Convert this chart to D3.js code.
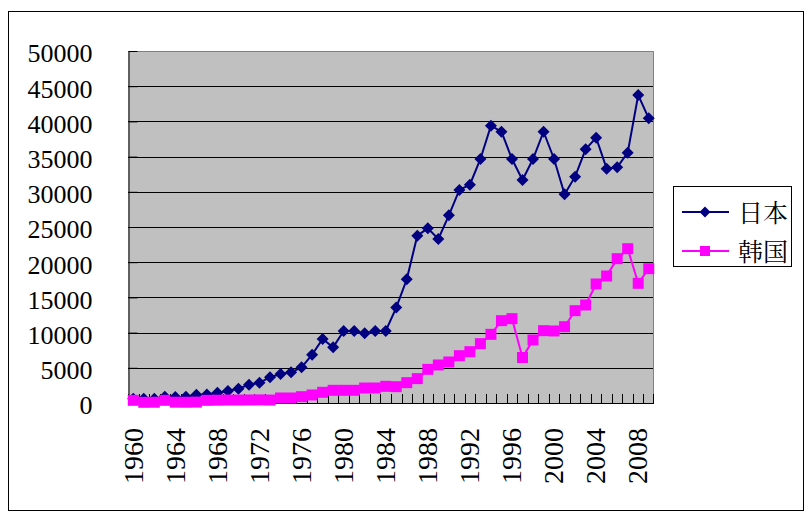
<!DOCTYPE html>
<html><head><meta charset="utf-8">
<script src="https://cdn.jsdelivr.net/npm/d3@7"></script>
<style>html,body{margin:0;padding:0;background:#fff;}svg{display:block;}</style>
</head><body>
<svg id="c" width="811" height="523"></svg>
<script>
const years = d3.range(1960, 2010).map(String);
const seriesNames = ["日本", "韩国"];
const japan = [610, 610, 620, 900, 850, 880, 1180, 1200, 1470, 1700,
  2040, 2600, 2890, 3645, 4120, 4355, 5065, 6865, 9090, 7905,
  10230, 10230, 9895, 10230, 10230, 13560, 17570, 23770, 24810, 23300,
  26660, 30260, 31010, 34660, 39390, 38540, 34660, 31680, 34660, 38540,
  34660, 29640, 32150, 36030, 37690, 33290, 33480, 35560, 43750, 40440];
const korea = [380, 100, 110, 380, 120, 110, 130, 380, 400, 420,
  420, 430, 440, 420, 710, 710, 900, 1140, 1520, 1800,
  1800, 1800, 2130, 2130, 2370, 2320, 2890, 3460, 4780, 5400,
  5825, 6720, 7290, 8430, 9755, 11695, 11980, 6460, 8950, 10275,
  10230, 10840, 13115, 13920, 16905, 18040, 20500, 21920, 17000, 19080];
const yTicks = [0, 5000, 10000, 15000, 20000, 25000, 30000, 35000, 40000, 45000, 50000];
const xLabelYears = years.filter((d, i) => i % 4 === 0);
const colors = ["#000080", "#FF00FF"];
const SERIF = '"Liberation Serif"';

const svg = d3.select("#c");
const L = 128, R = 654, T = 51, B = 403;

svg.append("rect").attr("x", 8.5).attr("y", 11.5).attr("width", 795).attr("height", 499)
  .attr("fill", "#fff").attr("stroke", "#000").attr("stroke-width", 1);

const x = d3.scaleBand().domain(years).range([L, R]).paddingInner(0).paddingOuter(0);
const cx = d => x(d) + x.bandwidth() / 2;
const y = d3.scaleLinear().domain([0, 50000]).range([B, T]);

svg.append("rect").attr("x", L).attr("y", T).attr("width", R - L).attr("height", B - T)
  .attr("fill", "#C0C0C0");
svg.append("path").attr("d", `M${L},${T + 0.5}H${R - 0.5}V${B}`)
  .attr("fill", "none").attr("stroke", "#808080").attr("stroke-width", 1);

svg.append("g").selectAll("line").data(yTicks.filter(v => v > 0 && v < 50000)).join("line")
  .attr("x1", L).attr("x2", R - 1)
  .attr("y1", d => Math.round(y(d)) + 0.5).attr("y2", d => Math.round(y(d)) + 0.5)
  .attr("stroke", "#000").attr("stroke-width", 1);

const yAxis = svg.append("g").attr("transform", `translate(${L + 0.5},0)`)
  .call(d3.axisLeft(y).tickValues(yTicks).tickSizeInner(-9).tickSizeOuter(0).tickPadding(36)
    .tickFormat(d3.format("d")));
yAxis.select(".domain").attr("stroke", "#000");
yAxis.selectAll(".tick line").attr("stroke", "#000");
yAxis.selectAll(".tick text")
  .style("font-family", SERIF).style("font-size", "26px").attr("fill", "#000").attr("dy", "0.42em");

const gx = svg.append("g");
gx.append("line").attr("x1", L).attr("x2", R).attr("y1", B + 0.5).attr("y2", B + 0.5)
  .attr("stroke", "#000");
gx.selectAll("line.t").data(years.concat(["end"])).join("line").attr("class", "t")
  .attr("x1", d => (d === "end" ? R - 0.5 : Math.round(x(d)) + 0.5))
  .attr("x2", d => (d === "end" ? R - 0.5 : Math.round(x(d)) + 0.5))
  .attr("y1", B - 9).attr("y2", B + 1).attr("stroke", "#000");

const xAxis = svg.append("g").attr("transform", `translate(0,${B})`)
  .call(d3.axisBottom(x).tickValues(xLabelYears).tickSize(0).tickPadding(0));
xAxis.select(".domain").remove();
xAxis.selectAll(".tick text")
  .style("font-family", SERIF).style("font-size", "28px").attr("fill", "#000")
  .attr("text-anchor", "end").attr("transform", "translate(0,25) rotate(-90)")
  .attr("x", 0).attr("y", 0).attr("dy", "0.33em");

const diamond = s => `M0,${-s}L${s},0L0,${s}L${-s},0Z`;
const square = s => `M${-s},${-s}H${s}V${s}H${-s}Z`;
const markers = [diamond(6), square(5.5)];

[japan, korea].forEach((vals, k) => {
  const g = svg.append("g");
  g.append("path").datum(vals)
    .attr("d", d3.line().x((d, i) => cx(years[i])).y(d => y(d)))
    .attr("fill", "none").attr("stroke", colors[k]).attr("stroke-width", 2);
  g.selectAll("path.m").data(vals).join("path").attr("class", "m")
    .attr("d", markers[k])
    .attr("transform", (d, i) => `translate(${cx(years[i])},${y(d)})`)
    .attr("fill", colors[k]);
});

const lg = svg.append("g");
lg.append("rect").attr("x", 673.5).attr("y", 186.5).attr("width", 118).attr("height", 80)
  .attr("fill", "#fff").attr("stroke", "#000");
const legendMarkers = [diamond(5.5), square(5)];
seriesNames.forEach((n, k) => {
  const ly = 212 + k * 39;
  lg.append("line").attr("x1", 682).attr("x2", 729).attr("y1", ly).attr("y2", ly)
    .attr("stroke", colors[k]).attr("stroke-width", 2);
  lg.append("path").attr("d", legendMarkers[k]).attr("transform", `translate(705,${ly})`)
    .attr("fill", colors[k]);
  lg.append("text").attr("x", 738).attr("y", ly).attr("dy", "0.38em")
    .style("font-family", '"Noto Serif CJK SC"').style("font-size", "25px")
    .attr("fill", "#000").text(n);
});
</script>
</body></html>
